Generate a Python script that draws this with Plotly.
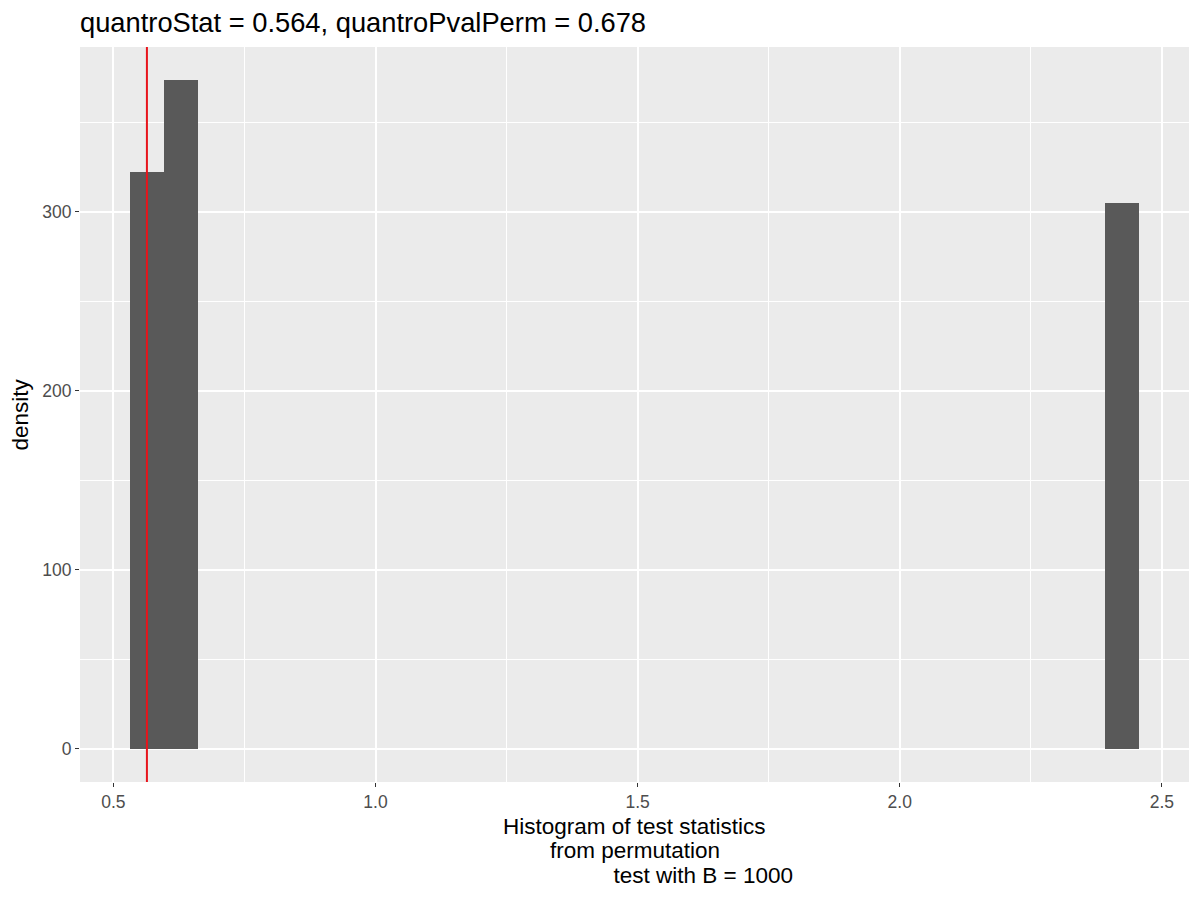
import plotly.graph_objects as go

# Data
bin_starts = [0.5325, 0.5966, 2.3915]
bin_width = 0.0641
densities = [322.5, 373.5, 305.0]
quantro_stat = 0.564
quantro_pval = 0.678
B = 1000

x_ticks = [0.5, 1.0, 1.5, 2.0, 2.5]
x_tick_labels = ["0.5", "1.0", "1.5", "2.0", "2.5"]
y_ticks = [0, 100, 200, 300]
y_tick_labels = ["0", "100", "200", "300"]

x_title_lines = ["Histogram of test statistics", "from permutation",
                 "\u00a0" * 22 + f"test with B = {B}"]

centers = [s + bin_width / 2 for s in bin_starts]

FONT = "Liberation Sans, Arial, sans-serif"
OFF = 8  # page body offset

fig = go.Figure()
fig.add_trace(go.Bar(
    x=centers, y=densities, width=[bin_width] * len(centers),
    marker=dict(color="#595959", line=dict(width=0)),
    showlegend=False, hoverinfo="skip",
))
fig.add_vline(x=quantro_stat, line=dict(color="#E8141B", width=2))

xmin = min(bin_starts + [quantro_stat])
xmax = max(s + bin_width for s in bin_starts)
xpad = (xmax - xmin) * 0.05
ymax = max(densities)
ypad = ymax * 0.05

# x-axis title lines
for i, line in enumerate(x_title_lines):
    fig.add_annotation(
        text=line, xref="paper", yref="paper", x=0.5, y=0,
        xanchor="center", yanchor="middle", showarrow=False,
        yshift=-(44 + i * 24.5),
        font=dict(size=22.5, color="black", family=FONT),
    )
# y-axis title
fig.add_annotation(
    text="density", xref="paper", yref="paper", x=0, y=0.5,
    xanchor="center", yanchor="middle", showarrow=False,
    textangle=-90, xshift=-60,
    font=dict(size=22.5, color="black", family=FONT),
)

fig.update_layout(
    width=1200, height=900,
    margin=dict(l=80 - OFF, r=11 + OFF, t=47 - OFF, b=118 + OFF),
    paper_bgcolor="white", plot_bgcolor="#EBEBEB",
    font=dict(family=FONT, color="black"),
    bargap=0,
    title=dict(
        text=f"quantroStat = {quantro_stat}, quantroPvalPerm = {quantro_pval}",
        x=(80 - OFF) / 1200, xanchor="left", y=1 - (22 - OFF) / 900, yanchor="middle",
        font=dict(size=27.3, color="black", family=FONT),
    ),
    xaxis=dict(
        range=[xmin - xpad, xmax + xpad],
        tickvals=x_ticks, ticktext=x_tick_labels,
        ticks="outside", ticklen=4, tickwidth=1.3, tickcolor="#333333",
        tickfont=dict(size=17.5, color="#4D4D4D", family=FONT),
        showgrid=True, gridcolor="white", gridwidth=1.8,
        minor=dict(dtick=0.25, showgrid=True, gridcolor="white", gridwidth=0.9, ticks=""),
        zeroline=False, showline=False,
    ),
    yaxis=dict(
        range=[-ypad, ymax + ypad],
        tickvals=y_ticks, ticktext=y_tick_labels,
        ticks="outside", ticklen=4, tickwidth=1.3, tickcolor="#333333",
        tickfont=dict(size=17.5, color="#4D4D4D", family=FONT),
        showgrid=True, gridcolor="white", gridwidth=1.8,
        minor=dict(dtick=50, showgrid=True, gridcolor="white", gridwidth=0.9, ticks=""),
        zeroline=False, showline=False,
    ),
)

fig.write_html("out.html")
